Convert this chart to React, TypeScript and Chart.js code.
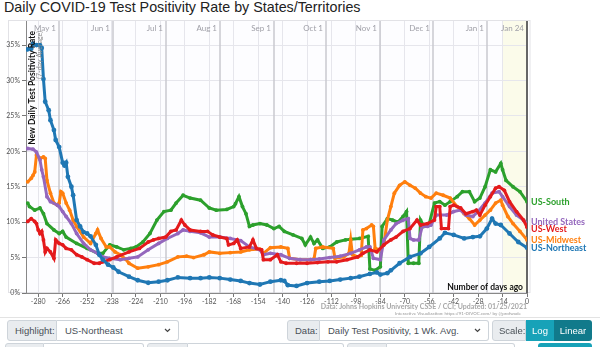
import React, { useEffect, useRef } from "react";
import { Chart, registerables } from "chart.js";

Chart.register(...registerables);

// ---------- data (days before Jan 24, 2021 ; 7-day avg test positivity %) ----------
const northeastDays = [-286, -284, -283, -281, -279, -278, -277, -276, -274, -273, -271, -270, -268, -266, -265, -264, -263, -261, -260, -258, -256, -254, -252, -250, -247, -245, -243, -240, -237, -234, -228, -223, -217, -211, -206, -200, -193, -187, -182, -176, -170, -164, -159, -153, -147, -141, -139, -137, -132, -126, -119, -113, -107, -101, -96, -90, -86, -84, -80, -78, -73, -67, -61, -56, -50, -47, -42, -36, -31, -27, -23, -20, -18, -15, -10, -5, 0];
const northeastValues = [34.4, 34.5, 35.2, 35.0, 35.0, 34.6, 30.2, 27.0, 25.8, 24.4, 23.0, 21.6, 20.6, 18.4, 18.0, 18.4, 16.4, 15.0, 13.8, 10.3, 9.4, 8.6, 8.4, 8.0, 6.8, 5.4, 4.7, 4.0, 3.6, 3.0, 2.3, 1.8, 1.45, 1.6, 1.8, 2.2, 2.1, 2.1, 2.2, 2.1, 1.9, 1.7, 1.4, 1.2, 1.6, 1.8, 1.7, 1.1, 1.0, 1.4, 1.6, 1.7, 1.9, 2.1, 2.3, 2.7, 2.9, 2.6, 2.8, 3.2, 4.2, 5.1, 5.6, 6.5, 7.7, 8.5, 8.2, 7.7, 7.9, 8.0, 9.1, 10.5, 9.8, 9.6, 8.4, 7.2, 6.4];

const southDays = [-286, -285, -282, -279, -277, -275, -271, -268, -266, -264, -258, -252, -246, -243, -239, -235, -231, -227, -224, -220, -216, -212, -208, -204, -201, -197, -193, -187, -182, -178, -172, -168, -167, -165, -163, -161, -159, -157, -153, -149, -145, -142, -139, -134, -129, -127, -124, -122, -120, -117, -113, -109, -104, -101, -96, -91, -90, -87, -84, -83, -80, -77, -74, -71, -69, -68, -65, -62, -61, -59, -56, -53, -50, -47, -44, -40, -37, -33, -30, -27, -24, -21, -18, -15, -14, -12, -8, -4, 0];
const southValues = [12.7, 12.2, 11.7, 12.0, 11.2, 9.8, 8.9, 8.4, 8.7, 7.9, 7.0, 6.3, 5.6, 5.6, 6.8, 6.5, 6.1, 6.3, 6.5, 7.2, 8.4, 10.3, 11.5, 11.7, 12.7, 13.8, 13.4, 13.1, 12.0, 11.7, 11.8, 12.2, 12.6, 13.6, 12.2, 11.2, 9.4, 9.6, 9.8, 9.6, 9.1, 9.4, 8.7, 8.2, 7.7, 6.8, 7.9, 7.0, 7.5, 6.3, 6.5, 7.2, 7.5, 7.6, 7.7, 8.0, 3.4, 3.2, 3.7, 9.4, 10.5, 10.3, 10.0, 10.8, 11.5, 4.2, 4.2, 4.2, 10.3, 9.4, 9.8, 12.7, 12.9, 12.4, 12.9, 13.6, 14.3, 14.3, 12.9, 13.4, 15.0, 17.4, 17.1, 18.3, 17.4, 15.9, 15.0, 14.3, 12.9];

const midwestDays = [-286, -284, -283, -282, -281, -279, -277, -276, -275, -273, -271, -269, -268, -267, -266, -264, -262, -260, -258, -254, -250, -247, -246, -244, -241, -239, -236, -233, -230, -228, -223, -217, -211, -206, -200, -195, -191, -185, -182, -176, -170, -164, -159, -153, -151, -147, -141, -137, -136, -130, -124, -122, -121, -117, -111, -110, -105, -102, -101, -100, -97, -95, -94, -92, -89, -88, -87, -84, -82, -80, -78, -76, -73, -70, -67, -64, -61, -58, -55, -52, -48, -44, -40, -36, -33, -30, -27, -24, -21, -18, -15, -14, -11, -8, -4, 0];
const midwestValues = [15.7, 16.2, 16.6, 17.1, 19.5, 19.0, 19.2, 19.0, 15.9, 14.1, 12.7, 12.4, 12.7, 14.3, 14.1, 12.7, 11.7, 10.3, 9.4, 7.9, 7.0, 8.4, 8.9, 7.7, 6.5, 6.5, 5.8, 5.4, 4.8, 4.2, 3.5, 3.7, 4.0, 4.4, 5.1, 5.2, 5.0, 5.4, 5.8, 5.6, 5.7, 5.8, 6.1, 6.2, 5.6, 6.4, 6.5, 6.3, 4.9, 4.7, 4.7, 4.8, 6.3, 6.5, 6.3, 4.9, 5.1, 5.6, 7.5, 5.4, 5.1, 5.3, 8.9, 9.1, 9.6, 9.4, 6.3, 6.1, 6.8, 10.3, 12.2, 14.1, 15.2, 15.7, 15.2, 14.8, 14.1, 13.6, 13.4, 14.1, 13.8, 13.4, 12.2, 11.2, 10.5, 9.6, 10.3, 11.0, 11.7, 12.7, 13.1, 12.4, 10.8, 9.8, 8.7, 7.5];

const unitedStatesDays = [-286, -283, -281, -279, -278, -277, -275, -273, -269, -268, -266, -264, -261, -258, -254, -250, -246, -243, -239, -233, -228, -223, -217, -211, -206, -200, -197, -193, -187, -182, -176, -170, -164, -159, -153, -151, -147, -141, -136, -130, -124, -119, -113, -107, -101, -96, -92, -90, -88, -84, -82, -78, -75, -71, -68, -67, -65, -62, -60, -57, -55, -52, -46, -42, -38, -35, -31, -28, -24, -20, -16, -14, -10, -6, -2, 0];
const unitedStatesValues = [20.4, 20.3, 19.9, 18.8, 17.4, 16.4, 13.6, 12.9, 12.4, 12.2, 11.5, 10.8, 9.8, 8.4, 7.0, 6.1, 5.6, 5.1, 4.9, 4.7, 4.9, 5.1, 6.1, 7.0, 7.7, 8.4, 8.9, 8.7, 8.5, 7.9, 7.9, 7.7, 7.4, 6.5, 6.1, 5.4, 5.6, 5.4, 4.9, 4.7, 4.7, 4.8, 5.0, 5.2, 5.6, 6.1, 6.5, 6.5, 4.9, 4.7, 7.5, 8.9, 9.8, 10.3, 10.5, 7.7, 7.5, 7.5, 9.4, 9.4, 9.6, 11.0, 11.0, 11.5, 11.7, 11.0, 10.8, 11.5, 12.7, 14.1, 14.3, 13.6, 12.2, 11.0, 10.3, 9.8];

const westDays = [-286, -284, -282, -281, -280, -279, -278, -277, -276, -275, -273, -271, -270, -268, -266, -264, -261, -258, -255, -252, -248, -245, -243, -239, -235, -228, -222, -217, -214, -211, -207, -204, -201, -198, -196, -193, -187, -183, -180, -176, -172, -171, -168, -166, -164, -159, -157, -155, -152, -151, -147, -143, -141, -138, -132, -126, -120, -114, -109, -103, -97, -94, -90, -86, -82, -78, -75, -71, -67, -63, -61, -57, -53, -52, -50, -49, -45, -44, -42, -38, -35, -31, -29, -27, -24, -21, -18, -16, -13, -10, -6, -2, 0];
const westValues = [10.1, 10.5, 10.1, 9.8, 8.9, 8.4, 8.7, 7.5, 5.8, 6.3, 5.8, 4.9, 7.5, 7.0, 6.8, 6.3, 6.1, 5.4, 5.1, 4.7, 4.2, 4.2, 4.4, 4.7, 5.1, 5.8, 6.3, 7.2, 7.5, 7.7, 7.9, 8.7, 8.9, 10.3, 9.6, 8.9, 8.7, 8.7, 8.2, 7.9, 7.7, 6.8, 7.0, 7.5, 6.3, 6.5, 7.5, 6.3, 6.1, 4.7, 4.7, 5.4, 4.4, 4.2, 4.2, 4.2, 4.3, 4.4, 4.4, 4.7, 5.1, 5.6, 6.1, 5.8, 6.8, 7.5, 7.9, 8.7, 9.1, 10.3, 9.6, 9.8, 10.3, 12.2, 12.2, 9.1, 9.1, 12.2, 12.4, 12.0, 11.2, 11.5, 11.7, 11.0, 12.4, 13.6, 14.8, 15.0, 14.5, 12.9, 11.5, 10.3, 9.3];

const xTickValues = [-280, -266, -252, -238, -224, -210, -196, -182, -168, -154, -140, -126, -112, -98, -84, -70, -56, -42, -28, -14, 0];
const yTickValues = [0, 5, 10, 15, 20, 25, 30, 35];
const monthLabels = ["May 1", "Jun 1", "Jul 1", "Aug 1", "Sep 1", "Oct 1", "Nov 1", "Dec 1", "Jan 1", "Jan 24"];
const monthDays = [-268, -237, -207, -176, -145, -115, -84, -54, -23, 0];

const seriesNames = ["US-Northeast", "US-West", "United States", "US-Midwest", "US-South"];
const seriesColors = ["#1f77b4", "#e41a1c", "#9467bd", "#ff7f0e", "#2ca02c"];
const seriesDays = [northeastDays, westDays, unitedStatesDays, midwestDays, southDays];
const seriesValues = [northeastValues, westValues, unitedStatesValues, midwestValues, southValues];
const highlighted = "US-Northeast";

const CHART_FONT = "Lato, 'Open Sans', sans-serif";
const UI_FONT = "'Liberation Sans', Arial, sans-serif";

const decorPlugin = {
  id: "decor",
  beforeDraw(chart: any) {
    const { ctx, chartArea: a, scales } = chart;
    const x = scales.x;
    ctx.save();
    ctx.fillStyle = "#fdfdff";
    ctx.fillRect(a.left, a.top, a.right - a.left, a.bottom - a.top);
    const bx = x.getPixelForValue(-14);
    ctx.fillStyle = "#fbfbea";
    ctx.fillRect(bx, a.top, a.right - bx, a.bottom - a.top);
    ctx.strokeStyle = "#e2e2e6";
    ctx.lineWidth = 1;
    ctx.strokeRect(8.5, a.top - 0.5, a.right + 3 - 8.5, a.bottom - a.top);
    ctx.restore();
  },
  beforeDatasetsDraw(chart: any) {
    const { ctx, chartArea: a, scales } = chart;
    const x = scales.x;
    ctx.save();
    monthDays.forEach((d, i) => {
      const px = Math.round(x.getPixelForValue(d));
      const last = i === monthDays.length - 1;
      ctx.strokeStyle = last ? "#666" : "#c9c9cf";
      ctx.lineWidth = last ? 2 : 1.5;
      ctx.beginPath();
      ctx.moveTo(px, a.top);
      ctx.lineTo(px, a.bottom);
      ctx.stroke();
      ctx.fillStyle = "#a0a0a8";
      ctx.font = `8px ${CHART_FONT}`;
      ctx.textAlign = "right";
      ctx.textBaseline = "middle";
      ctx.fillText(monthLabels[i], px - 3, a.top + 7);
    });
    ctx.restore();
  },
  afterDatasetsDraw(chart: any) {
    const { ctx, chartArea: a, scales } = chart;
    const y = scales.y;
    ctx.save();
    ctx.translate(32, 31);
    ctx.rotate(-Math.PI / 2);
    ctx.textAlign = "right";
    ctx.textBaseline = "middle";
    ctx.fillStyle = "#111";
    ctx.font = `bold 8.5px ${CHART_FONT}`;
    ctx.fillText("New Daily Test Positivity Rate", 0, 0);
    ctx.fillStyle = "#888";
    ctx.font = `7px ${CHART_FONT}`;
    ctx.fillText("(7-day Average)", 0, 8);
    ctx.restore();

    ctx.save();
    ctx.fillStyle = "#111";
    ctx.font = `bold 8.5px ${CHART_FONT}`;
    ctx.textAlign = "right";
    ctx.textBaseline = "middle";
    ctx.fillText("Number of days ago", a.right - 4, a.bottom - 6);

    const items = seriesNames.map((n, i) => {
      const vals = seriesValues[i];
      return { name: n, color: seriesColors[i], py: y.getPixelForValue(vals[vals.length - 1]) };
    }).sort((p, q) => p.py - q.py);
    const gap = 6.5;
    for (let k = 0; k < 20; k++) {
      for (let i = 1; i < items.length; i++) {
        const d = items[i].py - items[i - 1].py;
        if (d < gap) {
          const s = (gap - d) / 2;
          items[i].py += s;
          items[i - 1].py -= s;
        }
      }
    }
    ctx.textAlign = "left";
    ctx.font = `bold 9px ${CHART_FONT}`;
    items.forEach((it) => {
      ctx.fillStyle = it.color;
      ctx.fillText(it.name, a.right + 4, it.py);
    });

    ctx.textAlign = "right";
    ctx.fillStyle = "#a8a8a8";
    ctx.font = `bold 7px ${CHART_FONT}`;
    ctx.fillText("Data: Johns Hopkins University CSSE / CCI; Updated: 01/25/2021", a.right, 307);
    ctx.fillStyle = "#999";
    ctx.font = `4.5px ${CHART_FONT}`;
    ctx.fillText("Interactive Visualization: https://91-DIVOC.com/ by @profwade_", a.right - 4, 313.5);
    ctx.restore();
  },
};

function Chevron() {
  return (
    <svg width="7" height="5" viewBox="0 0 7 5" style={{ display: "block" }}>
      <polyline points="1,1 3.5,3.5 6,1" fill="none" stroke="#444" strokeWidth="1.2" />
    </svg>
  );
}

function Group(props: { left: number; top: number; labelW: number; selW: number; label: string; value?: string }) {
  const { left, top, labelW, selW, label, value } = props;
  return (
    <div style={{ position: "absolute", left, top, height: 21, display: "flex", fontFamily: UI_FONT, fontSize: 9.5, color: "#495057" }}>
      <div style={{ width: labelW, boxSizing: "border-box", background: "#e9ecef", border: "1px solid #ced4da", borderRadius: "3px 0 0 3px", display: "flex", alignItems: "center", paddingLeft: 7 }}>{label}</div>
      <div style={{ width: selW, boxSizing: "border-box", background: "#fff", border: "1px solid #ced4da", borderLeft: "none", borderRadius: "0 3px 3px 0", display: "flex", alignItems: "center", justifyContent: "space-between", paddingLeft: 8, paddingRight: 7 }}>
        <span>{value || ""}</span>
        {value ? <Chevron /> : null}
      </div>
    </div>
  );
}

export default function App() {
  const ref = useRef<HTMLCanvasElement>(null);
  useEffect(() => {
    const canvas = ref.current;
    if (!canvas) return;
    const datasets = seriesNames.map((name, i) => {
      const hl = name === highlighted;
      return {
        label: name,
        data: seriesDays[i].map((d, j) => ({ x: d, y: seriesValues[i][j] })),
        borderColor: seriesColors[i],
        backgroundColor: seriesColors[i],
        borderWidth: 3,
        pointRadius: hl ? 2.4 : 1.9,
        pointBorderWidth: 0,
        tension: 0,
        fill: false,
      };
    });
    const chart = new Chart(canvas, {
      type: "line",
      data: { datasets },
      options: {
        responsive: false,
        animation: false,
        devicePixelRatio: 1,
        layout: { padding: { top: 21, right: 73, left: 0, bottom: 0 } },
        plugins: { legend: { display: false }, tooltip: { enabled: false }, title: { display: false } },
        scales: {
          x: {
            type: "linear",
            min: -287,
            max: 0,
            afterBuildTicks: (s: any) => { s.ticks = xTickValues.map((v) => ({ value: v })); },
            afterFit: (s: any) => { s.height = 25; },
            grid: { color: "#e6e6ec", lineWidth: 1, tickLength: 4, tickColor: "#777" },
            border: { color: "#888", width: 1 },
            ticks: { font: { family: CHART_FONT, size: 7 }, color: "#555", padding: 1, maxRotation: 0, autoSkip: false, callback: (v: any) => String(v) },
          },
          y: {
            type: "linear",
            min: 0,
            max: 38.4,
            afterBuildTicks: (s: any) => { s.ticks = yTickValues.map((v) => ({ value: v })); },
            afterFit: (s: any) => { s.width = 26; },
            grid: { color: "#e6e6ec", lineWidth: 1, tickLength: 4, tickColor: "#777" },
            border: { color: "#888", width: 1 },
            ticks: { font: { family: CHART_FONT, size: 7 }, color: "#555", padding: 2, callback: (v: any) => `${v}%` },
          },
        },
      },
      plugins: [decorPlugin],
    } as any);
    return () => chart.destroy();
  }, []);

  return (
    <div style={{ position: "absolute", left: 0, top: 0, width: 600, height: 347, overflow: "hidden", background: "#fff" }}>
      <div style={{ position: "absolute", left: 4, top: 0, fontFamily: UI_FONT, fontSize: 14.3, lineHeight: "14px", color: "#222", whiteSpace: "nowrap" }}>
        Daily COVID-19 Test Positivity Rate by States/Territories
      </div>
      <canvas ref={ref} width={600} height={318} style={{ position: "absolute", left: 0, top: 0, width: 600, height: 318 }} />
      <div style={{ position: "absolute", left: 0, top: 317, width: 600, height: 1, background: "#e3e3e3" }} />
      <Group left={7} top={320} labelW={50} selW={122} label="Highlight:" value="US-Northeast" />
      <Group left={287} top={320} labelW={33} selW={169} label="Data:" value="Daily Test Positivity, 1 Wk. Avg." />
      <div style={{ position: "absolute", left: 492, top: 320, height: 21, display: "flex", fontFamily: UI_FONT, fontSize: 9.5 }}>
        <div style={{ width: 34, boxSizing: "border-box", background: "#e9ecef", border: "1px solid #ced4da", borderRadius: "3px 0 0 3px", display: "flex", alignItems: "center", paddingLeft: 6, color: "#495057" }}>Scale:</div>
        <div style={{ width: 28, background: "#17a2b8", color: "#fff", display: "flex", alignItems: "center", justifyContent: "center" }}>Log</div>
        <div style={{ width: 38, background: "#117a8b", color: "#fff", display: "flex", alignItems: "center", justifyContent: "center", borderRadius: "0 3px 3px 0" }}>Linear</div>
      </div>
      <Group left={5} top={343} labelW={39} selW={100} label="" />
      <Group left={147} top={343} labelW={41} selW={156} label="" />
      <Group left={347} top={343} labelW={40} selW={128} label="" />
      <div style={{ position: "absolute", left: 538, top: 343, width: 54, height: 21, background: "#17a2b8", borderRadius: 3 }} />
    </div>
  );
}
